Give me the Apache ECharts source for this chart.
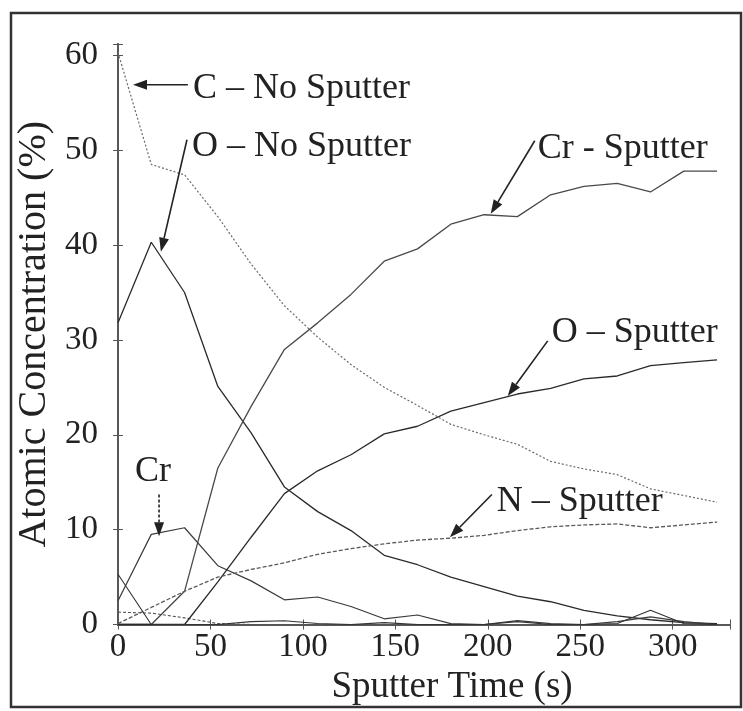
<!DOCTYPE html>
<html>
<head>
<meta charset="utf-8">
<script src="https://cdn.jsdelivr.net/npm/echarts@6/dist/echarts.min.js"></script>
<style>
  html, body { margin: 0; padding: 0; background: #fff; }
  #chart { width: 743px; height: 711px; }
</style>
</head>
<body>
<div id="chart"></div>
<script>
// Sputter time samples (s)
const time = [0, 18, 36, 54, 72, 90, 108, 126, 144, 162, 180, 198, 216, 234, 252, 270, 288, 306, 324];

// Atomic concentration (%) — unsputtered surface
const cNoSputter  = [60.3, 48.5, 47.4, 43.0, 38.0, 33.6, 30.3, 27.4, 25.0, 23.1, 21.1, 20.0, 19.0, 17.2, 16.4, 15.8, 14.3, 13.6, 12.9];
const oNoSputter  = [31.8, 40.3, 35.0, 25.1, 20.2, 14.5, 11.9, 9.9, 7.3, 6.3, 5.0, 4.0, 3.0, 2.4, 1.5, 0.9, 0.5, 0.2, 0.1];
const crNoSputter = [2.5, 9.5, 10.2, 6.2, 4.6, 2.6, 2.9, 1.9, 0.6, 1.0, 0.1, 0.0, 0.4, 0.1, 0.0, 0.3, 0.8, 0.3, 0.0];
const nNoSputter  = [1.3, 1.2, 0.7, 0.1, 0.0, 0.0, 0.0, 0.0, 0.0, 0.0, 0.0, 0.0, 0.0, 0.0, 0.0, 0.0, 0.0, 0.0, 0.0];

// Atomic concentration (%) — sputtered surface
const crSputter = [0.0, 0.0, 3.5, 16.5, 23.0, 29.0, 31.8, 34.8, 38.3, 39.6, 42.2, 43.2, 43.0, 45.3, 46.2, 46.5, 45.6, 47.8, 47.8];
const oSputter  = [0.0, 0.0, 0.0, 4.5, 9.2, 13.8, 16.2, 17.9, 20.1, 20.9, 22.5, 23.4, 24.3, 24.9, 25.9, 26.2, 27.3, 27.6, 27.9];
const nSputter  = [0.1, 1.8, 3.5, 5.0, 5.8, 6.5, 7.4, 8.0, 8.5, 8.9, 9.1, 9.4, 9.9, 10.3, 10.5, 10.6, 10.2, 10.5, 10.8];
const cSputter  = [5.3, 0.0, 0.0, 0.0, 0.3, 0.4, 0.1, 0.0, 0.2, 0.0, 0.0, 0.0, 0.3, 0.0, 0.0, 0.1, 1.5, 0.1, 0.0];

// Tick labels
const xTickLabels = [0, 50, 100, 150, 200, 250, 300];
const yTickLabels = [0, 10, 20, 30, 40, 50, 60];

// Callouts: label anchor, arrow tail and arrow tip, all in data units
const calloutText = ['C – No Sputter', 'O – No Sputter', 'Cr - Sputter', 'O – Sputter', 'N – Sputter', 'Cr'];
const calloutAnchor = [[40.5, 56.5], [40.0, 50.4], [227.0, 50.2], [234.6, 30.8], [204.9, 13.0], [18.9, 16.1]];
const calloutAlign = ['left', 'left', 'left', 'left', 'left', 'center'];
const arrowTail = [[37.8, 56.9], [37.3, 51.1], [225.4, 51.0], [232.4, 29.9], [202.2, 13.7], [22.2, 13.7]];
const arrowTip  = [[8.1, 56.9], [23.2, 39.3], [201.6, 43.3], [210.8, 24.1], [179.5, 9.2], [22.2, 9.3]];
const arrowDash = [null, null, null, null, null, [3, 2]];

const FONT = '"Liberation Serif", "Times New Roman", serif';
const INK = '#222';

const pair = arr => time.map((t, i) => [t, arr[i]]);

function lineSeries(name, arr, color, width, dash) {
  return {
    name, type: 'line', data: pair(arr), symbol: 'none', smooth: false,
    lineStyle: { color, width, type: dash || 'solid' },
    xAxisIndex: 0, yAxisIndex: 0, silent: true, animation: false
  };
}

const tickStyle = { inside: true, length: 5, lineStyle: { color: '#555', width: 1 } };

const chart = echarts.init(document.getElementById('chart'), null, { renderer: 'canvas' });

chart.setOption({
  backgroundColor: '#fff',
  animation: false,
  grid: { left: 118, right: 13, top: 44, bottom: 86.5, containLabel: false, outerBoundsMode: 'none' },
  xAxis: [
    {
      type: 'value', min: 0, max: 331, interval: 50, position: 'bottom',
      axisLine: { lineStyle: { color: '#333', width: 2 } },
      axisTick: tickStyle,
      splitLine: { show: false },
      axisLabel: {
        margin: 6, fontFamily: FONT, fontSize: 33, color: INK,
        formatter: v => (xTickLabels.indexOf(v) >= 0 ? String(v) : '')
      },
      name: 'Sputter Time (s)', nameLocation: 'middle', nameGap: 40,
      nameTextStyle: { fontFamily: FONT, fontSize: 37, color: INK, padding: [0, 0, 0, 56] }
    },
    {
      type: 'value', min: 0, max: 331, interval: 50, position: 'top',
      axisLine: { lineStyle: { color: '#666', width: 1.5 } },
      axisTick: tickStyle, axisLabel: { show: false }, splitLine: { show: false }
    }
  ],
  yAxis: [
    {
      type: 'value', min: 0, max: 61.2, interval: 10, position: 'left',
      axisLine: { lineStyle: { color: '#333', width: 2 } },
      axisTick: tickStyle,
      splitLine: { show: false },
      axisLabel: {
        margin: 20, fontFamily: FONT, fontSize: 33, color: INK,
        formatter: v => (yTickLabels.indexOf(v) >= 0 ? String(v) : '')
      },
      name: 'Atomic Concentration (%)', nameLocation: 'middle', nameGap: 55,
      nameTextStyle: { fontFamily: FONT, fontSize: 40, color: INK }
    },
    {
      type: 'value', min: 0, max: 61.2, interval: 10, position: 'right',
      axisLine: { lineStyle: { color: '#666', width: 1.5 } },
      axisTick: tickStyle, axisLabel: { show: false }, splitLine: { show: false }
    }
  ],
  series: [
    lineSeries('C – No Sputter', cNoSputter, '#6a6a6a', 1.2, [2, 2]),
    lineSeries('O – No Sputter', oNoSputter, '#2a2a2a', 1.3),
    lineSeries('Cr – No Sputter', crNoSputter, '#3a3a3a', 1.2),
    lineSeries('N – No Sputter', nNoSputter, '#555', 1.1, [3, 2]),
    lineSeries('Cr - Sputter', crSputter, '#4a4a4a', 1.3),
    lineSeries('O – Sputter', oSputter, '#2a2a2a', 1.3),
    lineSeries('N – Sputter', nSputter, '#5a5a5a', 1.3, [4, 2]),
    lineSeries('C – Sputter', cSputter, '#333', 1.1)
  ]
});

// Callout arrows and labels placed through the grid's coordinate system
function arrow(p1, p2, dash) {
  const dx = p2[0] - p1[0], dy = p2[1] - p1[1];
  const len = Math.hypot(dx, dy);
  const ux = dx / len, uy = dy / len;
  const hl = 14, hw = 5;
  const bx = p2[0] - ux * hl, by = p2[1] - uy * hl;
  return [
    { type: 'line', z: 10, shape: { x1: p1[0], y1: p1[1], x2: bx, y2: by },
      style: { stroke: INK, lineWidth: 1.6, lineDash: dash || null } },
    { type: 'polygon', z: 10,
      shape: { points: [[p2[0], p2[1]], [bx - uy * hw, by + ux * hw], [bx + uy * hw, by - ux * hw]] },
      style: { fill: INK } }
  ];
}

const px = p => chart.convertToPixel({ gridIndex: 0 }, p);
const elements = [
  { type: 'rect', z: -1, shape: { x: 11, y: 13, width: 730, height: 694 },
    style: { fill: 'none', stroke: '#333', lineWidth: 2.5 } }
];
calloutText.forEach((txt, i) => {
  const a = px(calloutAnchor[i]);
  elements.push({
    type: 'text', z: 10, x: a[0], y: a[1],
    style: { text: txt, font: '36px ' + FONT, fill: INK,
             align: calloutAlign[i], verticalAlign: 'middle',
             textAlign: calloutAlign[i], textVerticalAlign: 'middle' }
  });
  elements.push(...arrow(px(arrowTail[i]), px(arrowTip[i]), arrowDash[i]));
});
chart.setOption({ graphic: { elements } });
</script>
</body>
</html>
